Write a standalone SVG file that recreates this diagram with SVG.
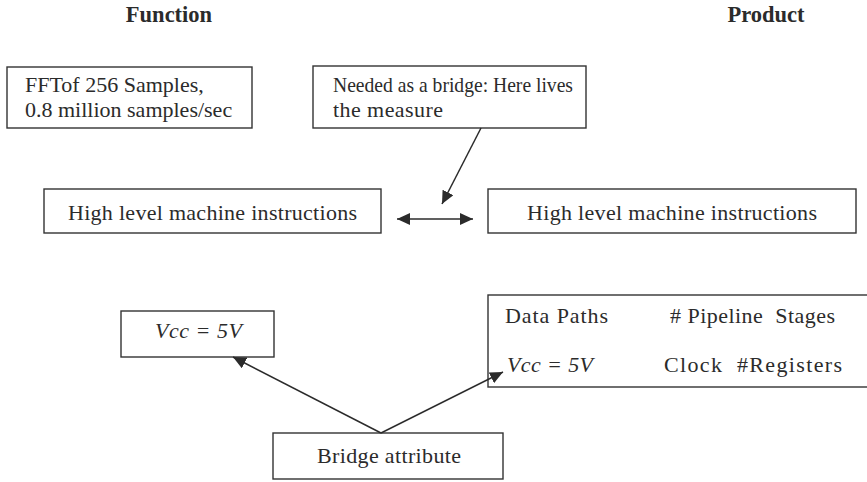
<svg xmlns="http://www.w3.org/2000/svg" width="867" height="482" viewBox="0 0 867 482">
  <style>
    .box { fill: #fff; stroke: #333; stroke-width: 1.4; }
    .t { font-size: 22px; fill: #2b2b2b; }
    .h { font-size: 22.5px; font-weight: bold; fill: #2b2b2b; }
    .it { font-style: italic; }
    .mid { text-anchor: middle; }
    .link { stroke: #2b2b2b; stroke-width: 1.5; fill: none; }
  </style>
  <defs>
    <marker id="arrow" markerUnits="userSpaceOnUse" markerWidth="14" markerHeight="12" refX="13" refY="6" orient="auto-start-reverse">
      <path d="M0,0 L13,6 L0,12 z" fill="#2b2b2b"/>
    </marker>
  </defs>
  <rect width="867" height="482" fill="#fff"/>

  <g font-family="Liberation Serif, Times New Roman, Times, DejaVu Serif, serif">
    <text class="h mid" x="169" y="22">Function</text>
    <text class="h mid" x="766" y="22">Product</text>

    <g id="fft">
      <rect class="box" x="7" y="67" width="245" height="61"/>
      <text class="t" x="25" y="92">FFTof 256 Samples,</text>
      <text class="t" x="25" y="117">0.8 million samples/sec</text>
    </g>

    <g id="bridge-note">
      <rect class="box" x="313" y="66" width="273" height="62"/>
      <text class="t" x="333" y="92" textLength="240" lengthAdjust="spacingAndGlyphs">Needed as a bridge: Here lives</text>
      <text class="t" x="333" y="117" textLength="110">the measure</text>
    </g>

    <g id="func-instr">
      <rect class="box" x="44" y="189" width="337" height="44"/>
      <text class="t" x="68" y="220" textLength="289">High level machine instructions</text>
    </g>

    <g id="prod-instr">
      <rect class="box" x="488" y="189" width="368" height="44"/>
      <text class="t" x="527" y="220" textLength="290">High level machine instructions</text>
    </g>

    <g id="func-vcc">
      <rect class="box" x="121" y="311" width="153" height="46"/>
      <text class="t it" x="155" y="338" textLength="87">Vcc = 5V</text>
    </g>

    <g id="prod-attrs">
      <rect class="box" x="488" y="295" width="400" height="92"/>
      <text class="t" x="505" y="323" textLength="103">Data Paths</text>
      <text class="t" x="670" y="323" xml:space="preserve" textLength="165"># Pipeline  Stages</text>
      <text class="t it" x="507" y="372" textLength="86">Vcc = 5V</text>
      <text class="t" x="664" y="372" xml:space="preserve" textLength="178">Clock  #Registers</text>
    </g>

    <g id="bridge-attr">
      <rect class="box" x="273" y="433" width="230" height="46"/>
      <text class="t" x="317" y="463" textLength="144">Bridge attribute</text>
    </g>
  </g>

  <g id="connectors">
    <line class="link" x1="481" y1="128" x2="442" y2="204" marker-end="url(#arrow)"/>
    <line class="link" x1="397" y1="219" x2="473" y2="219" marker-start="url(#arrow)" marker-end="url(#arrow)"/>
    <line class="link" x1="381" y1="433" x2="233" y2="357" marker-end="url(#arrow)"/>
    <line class="link" x1="381" y1="433" x2="503" y2="372" marker-end="url(#arrow)"/>
  </g>
</svg>
